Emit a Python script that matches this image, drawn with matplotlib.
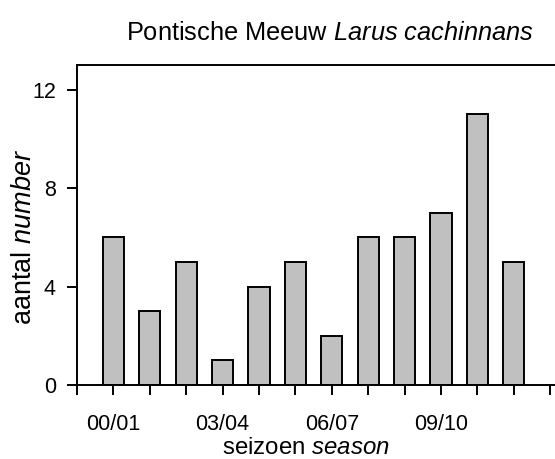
import matplotlib
matplotlib.use("Agg")
import matplotlib.pyplot as plt

plt.rcParams['font.family'] = 'Liberation Sans'
plt.rcParams['mathtext.fontset'] = 'custom'
plt.rcParams['mathtext.rm'] = 'Liberation Sans'
plt.rcParams['mathtext.it'] = 'Liberation Sans:italic'

seasons = ['00/01', '01/02', '02/03', '03/04', '04/05', '05/06',
           '06/07', '07/08', '08/09', '09/10', '10/11', '11/12']
counts = [6, 3, 5, 1, 4, 5, 2, 6, 6, 7, 11, 5]
yticks = [0, 4, 8, 12]

fig = plt.figure(figsize=(5.55, 4.59), dpi=100)
# axes runs past the right edge of the figure, like the cropped original
ax = fig.add_axes([77/555, 1-385/459, 14*36.4/555, 320/459])

pos = list(range(1, len(counts)+1))
ax.bar(pos, counts, width=0.58, color='#c0c0c0', edgecolor='black', linewidth=1.4)

ax.set_xlim(0, 14)
ax.set_ylim(0, 13)
ticks = list(range(0, 15))
labels = [''] * len(ticks)
for i, s in enumerate(seasons):
    if i % 3 == 0:
        labels[i+1] = s
ax.set_xticks(ticks)
ax.set_xticklabels(labels)
ax.set_yticks(yticks)

for sp in ax.spines.values():
    sp.set_linewidth(1.4)
ax.tick_params(axis='both', direction='out', length=7.2, width=1.4, labelsize=15.5)
ax.tick_params(axis='x', pad=13.5)
ax.tick_params(axis='y', pad=8)

fig.text(306/555, 1-454/459, r'seizoen $\it{season}$', ha='center', va='baseline', fontsize=17.3)
fig.text(24/555, 1-237/459, r'aantal $\it{number}$', ha='center', va='center', rotation=90, fontsize=19.5)
fig.text(330/555, 1-33/459, r'Pontische Meeuw $\it{Larus\ cachinnans}$', ha='center', va='center', fontsize=18.3)

fig.savefig('out.png', dpi=100)
